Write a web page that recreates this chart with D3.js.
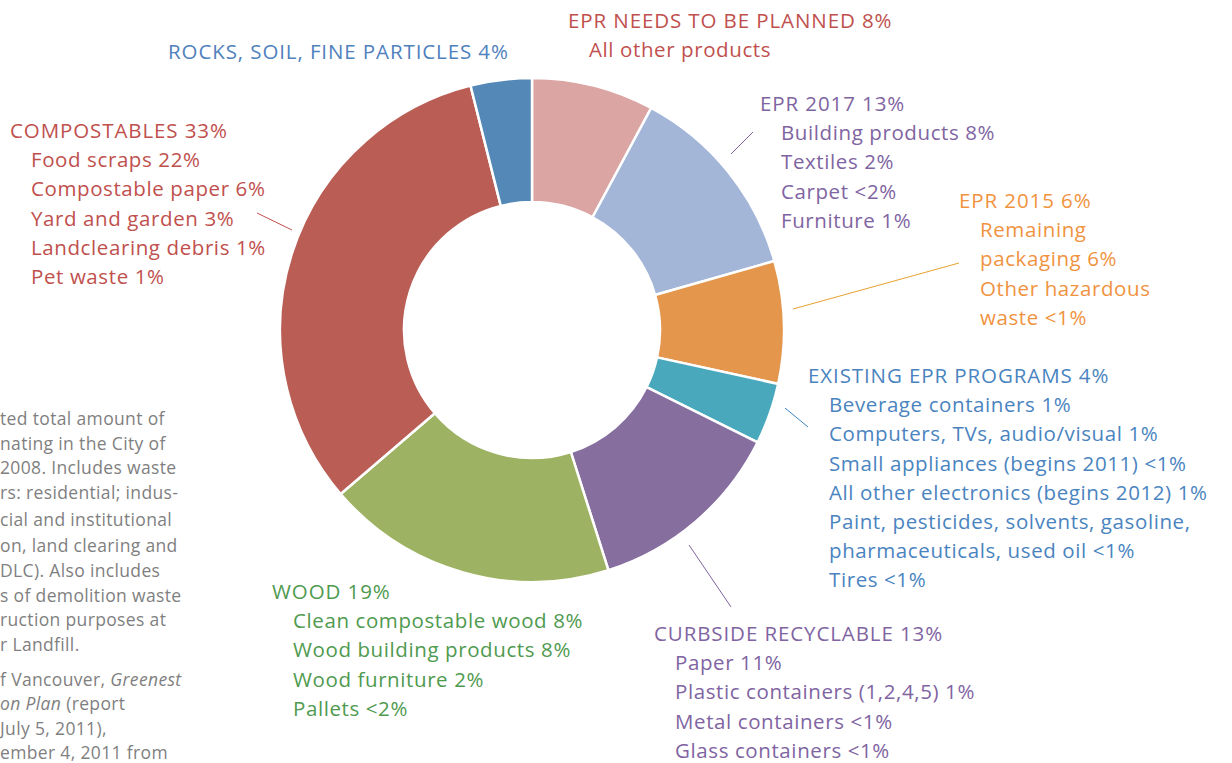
<!DOCTYPE html>
<html><head><meta charset="utf-8">
<script src="https://cdn.jsdelivr.net/npm/d3@7/dist/d3.min.js"></script>
<style>
html,body{margin:0;padding:0;background:#fff;overflow:hidden}
svg{display:block;font-family:"Open Sans",sans-serif}
</style></head><body>
<svg id="c" width="1232" height="763"></svg>
<script>
// Slice order clockwise from 12 o'clock
const categories = ["EPR needs to be planned","EPR 2017","EPR 2015","Existing EPR programs","Curbside recyclable","Wood","Compostables","Rocks, soil, fine particles"];
const values = [8, 13, 8, 4, 13, 19, 33, 4];
const sliceColors = ["#dba5a4","#a3b6d8","#e4964d","#4aa8bc","#866e9f","#9db262","#b95d55","#5388b7"];

const labelGroups = [
  {title:"EPR NEEDS TO BE PLANNED 8%", items:["All other products"], color:"#c0504d", x:568, y:28},
  {title:"ROCKS, SOIL, FINE PARTICLES 4%", items:[], color:"#4f81bd", x:168, y:59},
  {title:"COMPOSTABLES 33%", items:["Food scraps 22%","Compostable paper 6%","Yard and garden 3%","Landclearing debris 1%","Pet waste 1%"], color:"#c0504d", x:10, y:138},
  {title:"EPR 2017 13%", items:["Building products 8%","Textiles 2%","Carpet <2%","Furniture 1%"], color:"#8064a2", x:760, y:111},
  {title:"EPR 2015 6%", items:["Remaining","packaging 6%","Other hazardous","waste <1%"], color:"#f0933f", x:959, y:208},
  {title:"EXISTING EPR PROGRAMS 4%", items:["Beverage containers 1%","Computers, TVs, audio/visual 1%","Small appliances (begins 2011) <1%","All other electronics (begins 2012) 1%","Paint, pesticides, solvents, gasoline,","pharmaceuticals, used oil <1%","Tires <1%"], color:"#4a84c0", x:808, y:383},
  {title:"CURBSIDE RECYCLABLE 13%", items:["Paper 11%","Plastic containers (1,2,4,5) 1%","Metal containers <1%","Glass containers <1%"], color:"#8064a2", x:654, y:641},
  {title:"WOOD 19%", items:["Clean compostable wood 8%","Wood building products 8%","Wood furniture 2%","Pallets <2%"], color:"#4f9a4f", x:272, y:599}
];

// leader lines: [x1,y1,x2,y2,color]
const leaders = [
  [257,213,292,230,"#c0504d"],
  [753,132,731,154,"#8064a2"],
  [959,263,793,309,"#e8a030"],
  [785,408,808,427,"#3d85c6"],
  [689,545,731,607,"#8064a2"]
];

const footLines = [
  {t:"ted total amount of", y:425},
  {t:"nating in the City of", y:450},
  {t:"2008. Includes waste", y:474},
  {t:"rs: residential; indus-", y:499},
  {t:"cial and institutional", y:526},
  {t:"on, land clearing and", y:552},
  {t:"DLC). Also includes", y:577},
  {t:"s of demolition waste", y:602},
  {t:"ruction purposes at", y:626},
  {t:"r Landfill.", y:651},
  {t:"f Vancouver, <i>Greenest</i>", y:686},
  {t:"<i>on Plan</i> (report", y:710},
  {t:" July 5, 2011),", y:735},
  {t:"ember 4, 2011 from", y:759}
];

const svg = d3.select("#c");
const cx = 532, cy = 330, R = 252, r = 128;

const pie = d3.pie().sort(null).value(d => d)(values);
const arc = d3.arc().innerRadius(r).outerRadius(R);
const g = svg.append("g").attr("transform", `translate(${cx},${cy})`);
g.selectAll("path").data(pie).join("path")
  .attr("d", arc)
  .attr("fill", (d,i) => sliceColors[i])
  .attr("stroke", "#fff").attr("stroke-width", 2.5);

svg.selectAll("line.leader").data(leaders).join("line")
  .attr("class","leader")
  .attr("x1",d=>d[0]).attr("y1",d=>d[1]).attr("x2",d=>d[2]).attr("y2",d=>d[3])
  .attr("stroke",d=>d[4]).attr("stroke-width",1);

const fs = 20.5, lh = 29.2;
labelGroups.forEach(L => {
  const t = svg.append("g").attr("fill", L.color).style("font-size", fs+"px").style("letter-spacing","0.6px");
  t.append("text").attr("x", L.x).attr("y", L.y).style("letter-spacing","0.9px").text(L.title);
  L.items.forEach((s,i) => {
    t.append("text").attr("x", L.x + 21).attr("y", L.y + lh*(i+1)).text(s);
  });
});

const fg = svg.append("g").attr("fill","#7f7f7f").style("font-size","17.5px").style("letter-spacing","0.35px").attr("xml:space","preserve");
footLines.forEach(f => {
  fg.append("text").attr("x", 0).attr("y", f.y).html(f.t.replace(/<i>(.*?)<\/i>/g,'<tspan font-style="italic">$1</tspan>'));
});
</script>
</body></html>
